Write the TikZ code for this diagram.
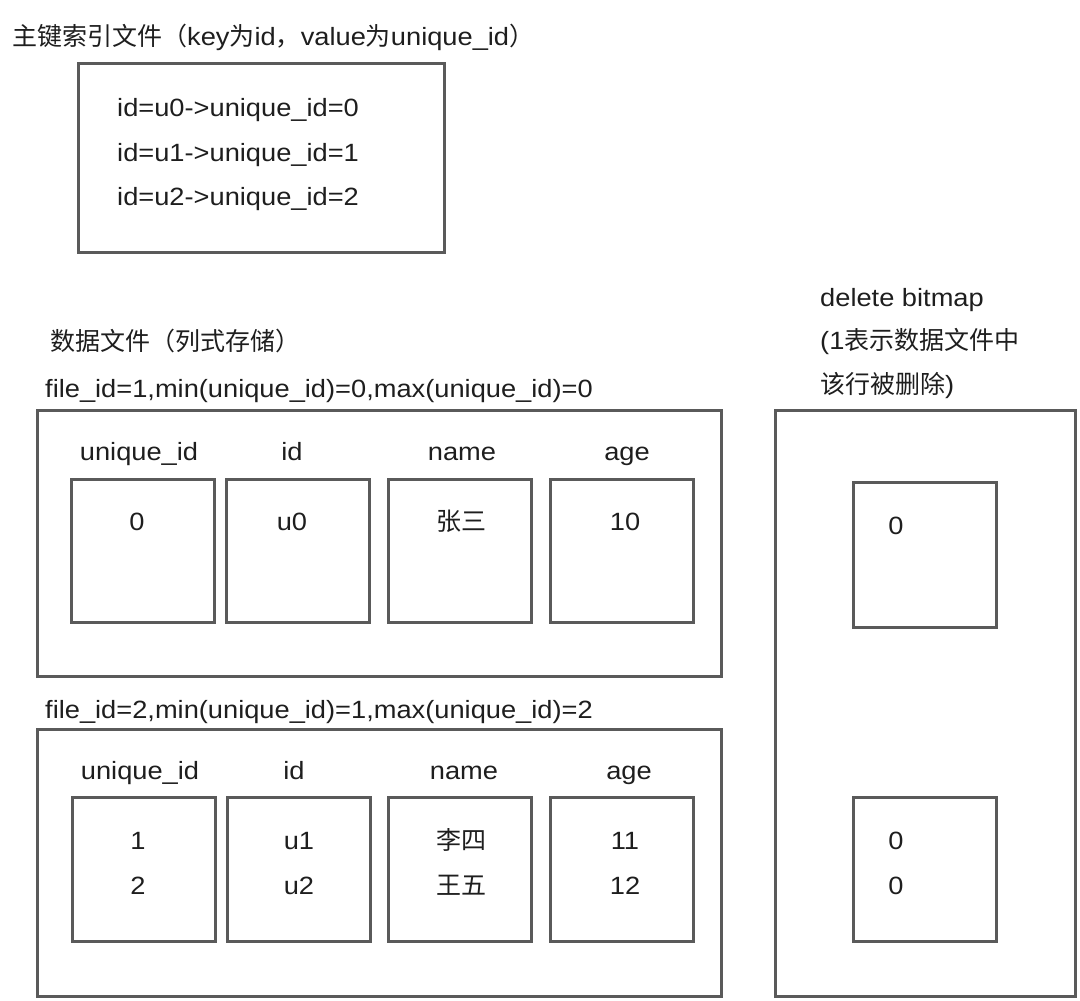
\documentclass[tikz,border=0pt]{standalone}
\usepackage{fontspec}
\setmainfont{Liberation Sans}[FakeStretch=1.09]
\newfontfamily\cjk{Noto Sans CJK SC}
\begin{document}
\begin{tikzpicture}[x=1pt,y=-1pt,
  box/.style={draw=boxgray,line width=3pt,anchor=north west,inner sep=0pt,outer sep=0pt},
  txt/.style={text=txtcol,inner sep=0pt,text height=18pt,text depth=5pt,font=\fontsize{25}{30}\selectfont},
  ltxt/.style={txt,anchor=west}]
\definecolor{boxgray}{HTML}{5A5A5A}
\definecolor{txtcol}{HTML}{1E1E1E}
\useasboundingbox (0,0) rectangle (1080,1001);
% title + index box
\node[ltxt] (title) at (12,39) {{\cjk 主键索引文件（}key{\cjk 为}id{\cjk ，}value{\cjk 为}unique\_id{\cjk ）}};
\node[box,minimum width=366,minimum height=189] (idx) at (78,63) {};
\node[ltxt] (i0) at (117,110) {id=u0->unique\_id=0};
\node[ltxt] (i1) at (117,155) {id=u1->unique\_id=1};
\node[ltxt] (i2) at (117,199) {id=u2->unique\_id=2};
% data file labels
\node[ltxt] (dtitle) at (50,344) {\cjk 数据文件（列式存储）};
\node[ltxt] (f1) at (45,391) {file\_id=1,min(unique\_id)=0,max(unique\_id)=0};
\node[ltxt] (f2) at (45,712) {file\_id=2,min(unique\_id)=1,max(unique\_id)=2};
% file boxes
\node[box,minimum width=684,minimum height=266] (file1) at (37,410) {};
\node[box,minimum width=684,minimum height=267] (file2) at (37,729) {};
% columns file1
\foreach \n/\x in {a/71,b/226,c/388,d/550}{
  \node[box,minimum width=143,minimum height=143] (c1\n) at (\x,479) {};
}
\foreach \n/\x/\h in {a/139/unique\_id,b/292/id,c/462/name,d/627/age}{
  \node[txt] (h1\n) at (\x,454) {\h};
}
\node[txt] (v1a) at (137,524) {0};
\node[txt] (v1b) at (292,524) {u0};
\node[txt] (v1c) at (461,524) {\cjk 张三};
\node[txt] (v1d) at (625,524) {10};
% columns file2
\foreach \n/\x in {a/72,b/227,c/388,d/550}{
  \node[box,minimum width=143,minimum height=144] (c2\n) at (\x,797) {};
}
\foreach \n/\x/\h in {a/140/unique\_id,b/294/id,c/464/name,d/629/age}{
  \node[txt] (h2\n) at (\x,773) {\h};
}
\node[txt] (v2a1) at (138,843) {1};
\node[txt] (v2a2) at (138,888) {2};
\node[txt] (v2b1) at (299,843) {u1};
\node[txt] (v2b2) at (299,888) {u2};
\node[txt] (v2c1) at (461,843) {\cjk 李四};
\node[txt] (v2c2) at (461,888) {\cjk 王五};
\node[txt] (v2d1) at (625,843) {11};
\node[txt] (v2d2) at (625,888) {12};
% delete bitmap
\node[ltxt] (b1) at (820,300) {delete bitmap};
\node[ltxt] (b2) at (820,343) {(1{\cjk 表示数据文件中}};
\node[ltxt] (b3) at (820,387) {{\cjk 该行被删除})};
\node[box,minimum width=300,minimum height=586] (bm) at (775,410) {};
\node[box,minimum width=143,minimum height=145] (bm1) at (853,482) {};
\node[box,minimum width=143,minimum height=144] (bm2) at (853,797) {};
\node[txt] (bv1) at (896,528) {0};
\node[txt] (bv2) at (896,843) {0};
\node[txt] (bv3) at (896,888) {0};
\end{tikzpicture}
\end{document}
